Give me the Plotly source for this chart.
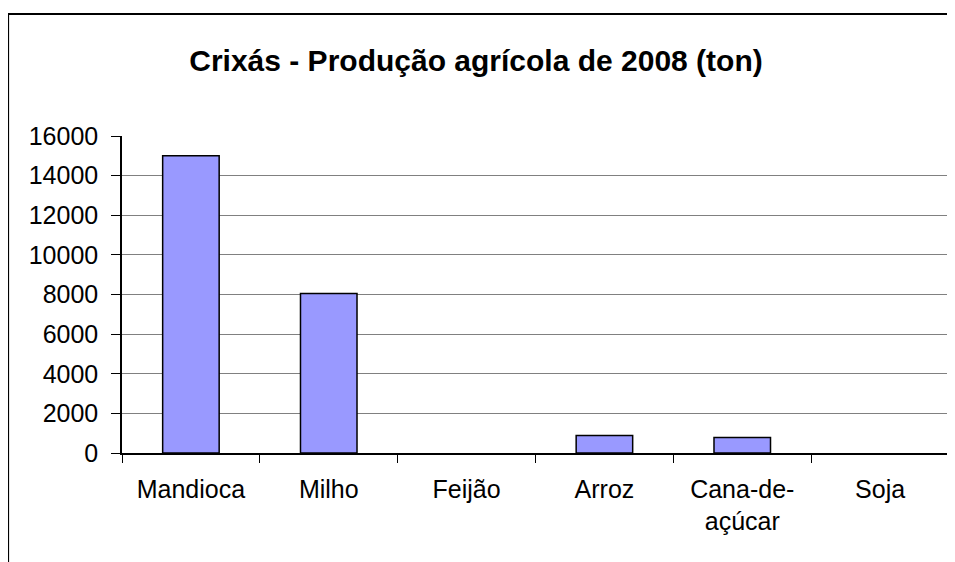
import plotly.graph_objects as go

categories = ["Mandioca", "Milho", "Feijão", "Arroz", "Cana-de-<br>açúcar", "Soja"]
values = [15000, 8050, 0, 880, 780, 0]
y_ticks = [0, 2000, 4000, 6000, 8000, 10000, 12000, 14000, 16000]
y_tick_text = [str(v) for v in y_ticks]

OFF = 8  # browser body margin
W, H = 955 - OFF, 562 - OFF
L = 122 - OFF
T = 136 - OFF
R = W - (949 - OFF)
B = H - (453 - OFF)
pw, ph = W - L - R, H - T - B

fig = go.Figure()
fig.add_trace(go.Bar(
    x=categories, y=values,
    marker=dict(color="#9999FF",
                line=dict(color="black", width=[1.5 if v > 0 else 0 for v in values])),
    width=0.41,
))

font = "Liberation Sans, Arial, sans-serif"
fig.update_layout(
    width=W, height=H,
    margin=dict(l=L, r=R, t=T, b=B),
    paper_bgcolor="white", plot_bgcolor="white",
    showlegend=False,
    title=dict(text="<b>Crixás - Produção agrícola de 2008 (ton)</b>",
               x=(476 - OFF) / W, xanchor="center", y=1 - (60 - OFF) / H, yanchor="middle",
               font=dict(family=font, size=30, color="black")),
    font=dict(family=font, size=25, color="black"),
)
fig.update_xaxes(
    showline=True, linecolor="black", linewidth=1.5,
    ticks="outside", tickson="boundaries", ticklen=8, tickcolor="black", tickwidth=1,
    tickfont=dict(size=25), showgrid=False, ticklabelstandoff=13,
)
fig.update_yaxes(
    range=[0, 16000], tickvals=y_ticks, ticktext=y_tick_text,
    showline=True, linecolor="black", linewidth=1.5,
    ticks="outside", ticklen=9, tickcolor="black", tickwidth=1,
    showgrid=True, gridcolor="#808080", gridwidth=1,
    tickfont=dict(size=25), zeroline=False, ticklabelstandoff=8,
)
# right border of plot area
fig.add_shape(type="line", xref="paper", yref="paper", x0=1, x1=1, y0=0, y1=1,
              line=dict(color="#808080", width=1.5))
# outer chart frame (clipped by the view)
fig.add_shape(type="rect", xref="paper", yref="paper",
              x0=(8 - OFF - L) / pw, x1=(W + 30 - L) / pw,
              y0=-(40 + B) / ph, y1=(ph + T - (14 - OFF)) / ph,
              line=dict(color="black", width=2.2), layer="above")

fig.write_html("out.html")
